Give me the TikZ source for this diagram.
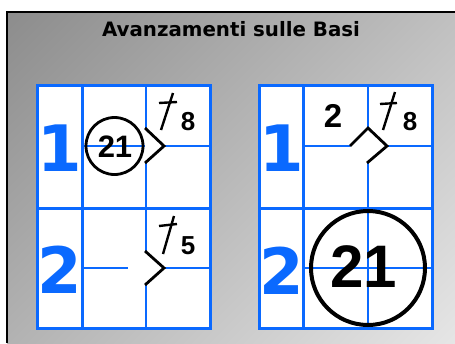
\documentclass[tikz,border=0pt]{standalone}
\usepackage{fontspec}
\newfontfamily\titlefont{DejaVu Sans}[BoldFont={DejaVu Sans Bold}]
\newfontfamily\digfont{Liberation Sans}
\newfontfamily\bluefont{DejaVu Sans}
\definecolor{gblue}{RGB}{10,105,255}
\definecolor{bgdark}{RGB}{122,122,122}
\definecolor{bglight}{RGB}{248,248,248}
\tikzset{
  thickline/.style={gblue, line width=3pt},
  thinline/.style={gblue, line width=1.4pt},
  ink/.style={black, line width=2.8pt, line join=miter},
  tick/.style={black, line width=2.4pt},
  bluedigit/.style={text=gblue, inner sep=0pt, font=\bluefont\bfseries\fontsize{64}{64}\selectfont},
  smalldigit/.style={inner sep=0pt, font=\digfont\bfseries\fontsize{26}{26}\selectfont},
  middigit/.style={inner sep=0pt, font=\digfont\bfseries\fontsize{33}{33}\selectfont},
  bigdigit/.style={inner sep=0pt, font=\digfont\bfseries\fontsize{60}{60}\selectfont},
}
\begin{document}
\begin{tikzpicture}[x=1pt,y=-1pt]
\useasboundingbox (0,0) rectangle (455,343);
\fill[white] (0,0) rectangle (455,343);
\begin{scope}
\clip (7,12) rectangle (455,343);
\shade[top color=bgdark, bottom color=bglight, shading angle=45]
  (-159,-212.5) rectangle (621,567.5);
\end{scope}
\draw[black, line width=2.6pt] (7,343) -- (7,12) -- (455,12);
\node[font=\titlefont\bfseries\fontsize{19.8}{19.8}\selectfont, inner sep=0pt] (title) at (231,29) {Avanzamenti sulle Basi};

% ---------- left grid ----------
\fill[white] (37,85.5) rectangle (210,328.5);
\draw[thinline] (146,85.5) -- (146,328.5);
\draw[thinline] (82,146) -- (210,146);
\draw[thinline] (82,268) -- (128,268);
\draw[thinline] (146,268) -- (210,268);
\draw[thickline] (82,85.5) -- (82,328.5);
\draw[thickline] (37,208) -- (210,208);
\draw[thickline] (37,85.5) rectangle (210,328.5);
\node[bluedigit] (L1) at (60,148) {1};
\node[bluedigit] (L2) at (60,270) {2};
% runner 21 on first base
\node[circle, draw, line width=2.8pt, minimum size=57pt, inner sep=0pt] (c1) at (114.5,146) {};
\node[middigit, font=\digfont\bfseries\fontsize{31}{31}\selectfont] (n21a) at (115,146.5) {21};
% chevron row 1
\fill[white] (145,128) -- (164,146) -- (145,163) -- cycle;
\draw[ink] (145,128) -- (164,146) -- (145,163);
\draw[tick] (161,130) -- (173,93);
\draw[tick] (159,103) -- (177,102);
\node[smalldigit] (n8a) at (188,122) {8};
% chevron row 2
\fill[white] (145,251) -- (164,268) -- (145,285) -- cycle;
\draw[ink] (145,251) -- (164,268) -- (145,285);
\draw[tick] (163,254) -- (174,216);
\draw[tick] (159,226) -- (177,224);
\node[smalldigit] (n5) at (188,246) {5};

% ---------- right grid ----------
\fill[white] (259,85.5) rectangle (432,328.5);
\draw[thinline] (368,85.5) -- (368,328.5);
\draw[thinline] (303,146) -- (432,146);
\draw[thinline] (303,268) -- (432,268);
\draw[thickline] (303,85.5) -- (303,328.5);
\draw[thickline] (259,208) -- (432,208);
\draw[thickline] (259,85.5) rectangle (432,328.5);
\node[bluedigit] (R1) at (282,148) {1};
\node[bluedigit] (R2) at (282,271) {2};
\node[middigit] (n2) at (333,115.5) {2};
\fill[white] (350,146) -- (368,128) -- (387,146) -- (367,163) -- cycle;
\draw[ink] (350,146) -- (368,128) -- (387,146) -- (367,163);
\draw[tick] (383,130) -- (395,92);
\draw[tick] (380,104) -- (397,103);
\node[smalldigit] (n8b) at (410,122) {8};
\node[circle, draw, line width=4pt, minimum size=114pt, inner sep=0pt] (c2) at (368,268) {};
\node[bigdigit] (n21b) at (364,267) {21};
\end{tikzpicture}
\end{document}
